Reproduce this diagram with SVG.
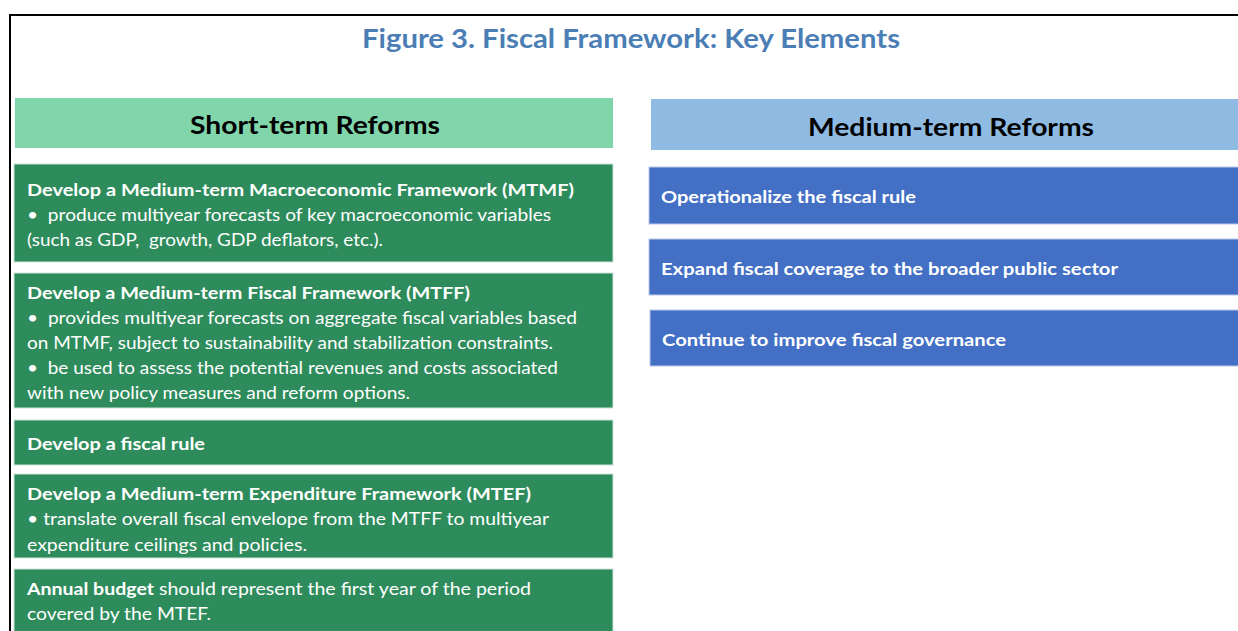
<svg xmlns="http://www.w3.org/2000/svg" width="1238" height="631" viewBox="0 0 1238 631">
<style>
.t{font-family:Lato,"Open Sans","Liberation Sans",sans-serif;white-space:pre;}
.title{font-size:26px;font-weight:bold;fill:#4A7EB5;}
.hd{font-size:24px;font-weight:bold;fill:#000;}
.b{font-size:17px;font-weight:bold;fill:#fff;}
.n{font-size:17px;fill:#fff;}
.g{fill:#2E8C5C;stroke:#cfe6da;stroke-width:1;}
.bl{fill:#4370C4;stroke:#b9c9e8;stroke-width:1;}
</style>
<rect width="1238" height="631" fill="#fff"/>
<g id="frame">
<line x1="9" y1="15" x2="1238" y2="15" stroke="#000" stroke-width="2"/>
<line x1="10" y1="14" x2="10" y2="631" stroke="#000" stroke-width="2"/>
</g>
<g id="title"><text class="t title" x="362" y="48" textLength="538" lengthAdjust="spacingAndGlyphs">Figure 3. Fiscal Framework: Key Elements</text></g>
<g id="short-header">
<rect x="15" y="98" width="598" height="50" fill="#80D5AB"/>
<text class="t hd" x="190" y="134" textLength="250" lengthAdjust="spacingAndGlyphs">Short-term Reforms</text>
</g>
<g id="medium-header">
<rect x="651" y="99" width="587" height="51" fill="#8FBBE3"/>
<text class="t hd" x="808" y="136" textLength="286" lengthAdjust="spacingAndGlyphs">Medium-term Reforms</text>
</g>
<g id="mtmf">
<rect class="g" x="14" y="164" width="599" height="98"/>
<text class="t b" x="27" y="196" textLength="547" lengthAdjust="spacingAndGlyphs">Develop a Medium-term Macroeconomic Framework (MTMF)</text>
<text class="t n" x="27" y="221" textLength="524" lengthAdjust="spacingAndGlyphs" xml:space="preserve">•  produce multiyear forecasts of key macroeconomic variables</text>
<text class="t n" x="27" y="246" textLength="356" lengthAdjust="spacingAndGlyphs" xml:space="preserve">(such as GDP,  growth, GDP deflators, etc.).</text>
</g>
<g id="mtff">
<rect class="g" x="14" y="273" width="599" height="135"/>
<text class="t b" x="27" y="299" textLength="443" lengthAdjust="spacingAndGlyphs">Develop a Medium-term Fiscal Framework (MTFF)</text>
<text class="t n" x="27" y="324" textLength="550" lengthAdjust="spacingAndGlyphs" xml:space="preserve">•  provides multiyear forecasts on aggregate fiscal variables based</text>
<text class="t n" x="27" y="349" textLength="526" lengthAdjust="spacingAndGlyphs">on MTMF, subject to sustainability and stabilization constraints.</text>
<text class="t n" x="27" y="374" textLength="531" lengthAdjust="spacingAndGlyphs" xml:space="preserve">•  be used to assess the potential revenues and costs associated</text>
<text class="t n" x="27" y="399" textLength="383" lengthAdjust="spacingAndGlyphs">with new policy measures and reform options.</text>
</g>
<g id="fiscal-rule">
<rect class="g" x="14" y="420" width="599" height="45"/>
<text class="t b" x="27" y="450" textLength="178" lengthAdjust="spacingAndGlyphs">Develop a fiscal rule</text>
</g>
<g id="mtef">
<rect class="g" x="14" y="474" width="599" height="84"/>
<text class="t b" x="27" y="500" textLength="504" lengthAdjust="spacingAndGlyphs">Develop a Medium-term Expenditure Framework (MTEF)</text>
<text class="t n" x="27" y="525" textLength="522" lengthAdjust="spacingAndGlyphs">• translate overall fiscal envelope from the MTFF to multiyear</text>
<text class="t n" x="27" y="551" textLength="280" lengthAdjust="spacingAndGlyphs">expenditure ceilings and policies.</text>
</g>
<g id="annual-budget">
<rect class="g" x="14" y="569" width="599" height="70"/>
<text class="t b" x="27" y="595" textLength="127" lengthAdjust="spacingAndGlyphs">Annual budget</text>
<text class="t n" x="159" y="595" textLength="372" lengthAdjust="spacingAndGlyphs">should represent the first year of the period</text>
<text class="t n" x="27" y="620" textLength="184" lengthAdjust="spacingAndGlyphs">covered by the MTEF.</text>
</g>
<g id="operationalize">
<rect class="bl" x="649" y="167" width="595" height="57"/>
<text class="t b" x="661" y="203" textLength="255" lengthAdjust="spacingAndGlyphs">Operationalize the fiscal rule</text>
</g>
<g id="expand">
<rect class="bl" x="649" y="239" width="595" height="56"/>
<text class="t b" x="661" y="275" textLength="457" lengthAdjust="spacingAndGlyphs">Expand fiscal coverage to the broader public sector</text>
</g>
<g id="governance">
<rect class="bl" x="650" y="310" width="594" height="56"/>
<text class="t b" x="662" y="346" textLength="344" lengthAdjust="spacingAndGlyphs">Continue to improve fiscal governance</text>
</g>
<g id="connectors"></g>
</svg>
